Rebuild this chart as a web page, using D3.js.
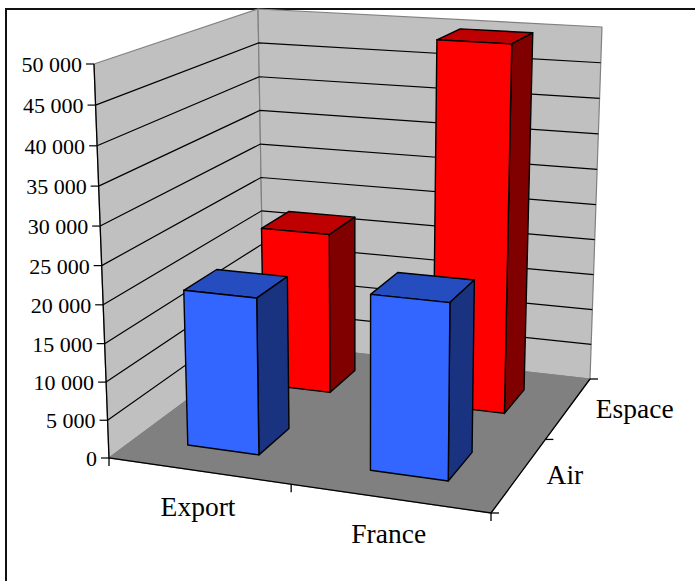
<!DOCTYPE html>
<html>
<head>
<meta charset="utf-8">
<script src="https://d3js.org/d3.v7.min.js"></script>
<style>
  html, body { margin: 0; padding: 0; background: #fff; overflow: hidden; }
  svg { display: block; }
  text { font-family: "Liberation Serif", serif; fill: #000; }
</style>
</head>
<body>
<svg id="chart" width="695" height="581"></svg>
<script>
// Chart values
const categories = ["Export", "France"];
const seriesNames = ["Air", "Espace"];
const airValues = [20500, 22500];
const espaceValues = [22300, 49900];
const valueMax = 50000;

const seriesColors = {
  Air: { front: "#3366ff", top: "#264dbf", side: "#1a3380" },
  Espace: { front: "#ff0000", top: "#bf0000", side: "#800000" }
};

// Corners of the chart box on screen: floor and ceiling, ordered
// front-left, front-right, back-right, back-left.
const floorCorners = [[109, 458], [491, 513], [590, 379], [264, 343]];
const ceilingCorners = [[94, 64], [496, 90], [602, 27], [258, 9]];

// Homography from the unit square onto a quadrilateral.
function squareToQuad([p0, p1, p2, p3]) {
  const dx1 = p1[0] - p2[0], dx2 = p3[0] - p2[0], sx = p0[0] - p1[0] + p2[0] - p3[0];
  const dy1 = p1[1] - p2[1], dy2 = p3[1] - p2[1], sy = p0[1] - p1[1] + p2[1] - p3[1];
  const den = dx1 * dy2 - dx2 * dy1;
  const g = (sx * dy2 - dx2 * sy) / den;
  const h = (dx1 * sy - sx * dy1) / den;
  const a = p1[0] - p0[0] + g * p1[0], b = p3[0] - p0[0] + h * p3[0];
  const d = p1[1] - p0[1] + g * p1[1], e = p3[1] - p0[1] + h * p3[1];
  return (u, v) => {
    const w = g * u + h * v + 1;
    return [(a * u + b * v + p0[0]) / w, (d * u + e * v + p0[1]) / w];
  };
}
const floorMap = squareToQuad(floorCorners);
const ceilingMap = squareToQuad(ceilingCorners);

// Project chart space (x across, y up, z into the page; all 0..1) to the screen.
// Heights are foreshortened slightly, more strongly towards the front.
function project(x, y, z) {
  const f = floorMap(x, z), c = ceilingMap(x, z);
  const a = 1.048 - 0.03 * z;
  const t = y / (a - (a - 1) * y);
  return [f[0] + (c[0] - f[0]) * t, f[1] + (c[1] - f[1]) * t];
}

const xBand = d3.scaleBand().domain(categories).range([0, 1]).paddingInner(0.6).paddingOuter(0.3);
const zBand = d3.scaleBand().domain(seriesNames).range([0, 1]).paddingInner(0.6).paddingOuter(0.3);
const yScale = d3.scaleLinear().domain([0, valueMax]).range([0, 1]);
const yTicks = yScale.ticks(10);
const tickFormat = d3.formatLocale({ decimal: ",", thousands: " ", grouping: [3], currency: ["", ""] }).format(",d");

const svg = d3.select("#chart");
const line = d3.line();
const closed = pts => line(pts) + "Z";

// Outer frame; it runs past the right and bottom of the page
svg.append("rect")
  .attr("x", 6).attr("y", 9).attr("width", 720).attr("height", 600)
  .attr("fill", "#fff").attr("stroke", "#111").attr("stroke-width", 2);

// Walls and floor
const walls = svg.append("g").attr("stroke", "#808080").attr("stroke-width", 1.2).attr("stroke-linejoin", "round");
walls.append("path").attr("fill", "#c0c0c0")
  .attr("d", closed([project(0, 0, 0), project(0, 1, 0), project(0, 1, 1), project(0, 0, 1)]));
walls.append("path").attr("fill", "#c0c0c0")
  .attr("d", closed([project(0, 0, 1), project(0, 1, 1), project(1, 1, 1), project(1, 0, 1)]));
walls.append("path").attr("fill", "#808080")
  .attr("d", closed([project(0, 0, 0), project(1, 0, 0), project(1, 0, 1), project(0, 0, 1)]));

// Gridlines across the side wall and the back wall
svg.append("g").attr("fill", "none").attr("stroke", "#000").attr("stroke-width", 1.2)
  .selectAll("path").data(yTicks.filter(t => t > 0 && t < valueMax)).join("path")
  .attr("d", t => {
    const y = yScale(t);
    return line([project(0, y, 0), project(0, y, 1), project(1, y, 1)]);
  });

// Axis lines
const axes = svg.append("g").attr("fill", "none").attr("stroke", "#000").attr("stroke-width", 1.3);
axes.append("path").attr("d", line([project(0, 1, 0), project(0, 0, 0), project(1, 0, 0), project(1, 0, 1)]));

// Value axis ticks and labels
const tickLen = 8;
const yAxis = svg.append("g");
yTicks.forEach(t => {
  const [px, py] = project(0, yScale(t), 0);
  yAxis.append("line").attr("x1", px - tickLen).attr("x2", px).attr("y1", py).attr("y2", py)
    .attr("stroke", "#000").attr("stroke-width", 1.2);
  yAxis.append("text").attr("x", px - tickLen - 4).attr("y", py + 8)
    .attr("text-anchor", "end").attr("font-size", 22).text(tickFormat(t));
});

// Category axis ticks and labels
const xStep = xBand.step();
d3.range(categories.length + 1).forEach(i => {
  const [px, py] = project(i * xStep, 0, 0);
  axes.append("line").attr("x1", px).attr("x2", px).attr("y1", py).attr("y2", py + tickLen);
});
categories.forEach(c => {
  const [px, py] = project(xBand(c) + xBand.bandwidth() / 2, 0, 0);
  svg.append("text").attr("x", px).attr("y", py + 45)
    .attr("text-anchor", "middle").attr("font-size", 27.5).text(c);
});

// Depth axis ticks and labels
const zStep = zBand.step();
d3.range(seriesNames.length + 1).forEach(i => {
  const [px, py] = project(1, 0, i * zStep);
  axes.append("line").attr("x1", px).attr("x2", px + tickLen).attr("y1", py).attr("y2", py);
});
seriesNames.forEach(s => {
  const [px, py] = project(1, 0, zBand(s) + zBand.bandwidth() / 2);
  svg.append("text").attr("x", px + 27).attr("y", py + 10)
    .attr("font-size", 27.5).text(s);
});

// Bars, back row first so that nearer bars overlap farther ones
const barRows = [
  { series: "Espace", values: espaceValues },
  { series: "Air", values: airValues }
];
barRows.forEach(row => {
  const colors = seriesColors[row.series];
  const z0 = zBand(row.series), z1 = z0 + zBand.bandwidth();
  const g = svg.append("g").attr("stroke", "#000").attr("stroke-width", 1.4).attr("stroke-linejoin", "round");
  categories.forEach((c, i) => {
    const x0 = xBand(c), x1 = x0 + xBand.bandwidth(), h = yScale(row.values[i]);
    g.append("path").attr("fill", colors.top)
      .attr("d", closed([project(x0, h, z0), project(x1, h, z0), project(x1, h, z1), project(x0, h, z1)]));
    g.append("path").attr("fill", colors.side)
      .attr("d", closed([project(x1, 0, z0), project(x1, h, z0), project(x1, h, z1), project(x1, 0, z1)]));
    g.append("path").attr("fill", colors.front)
      .attr("d", closed([project(x0, 0, z0), project(x1, 0, z0), project(x1, h, z0), project(x0, h, z0)]));
  });
});
</script>
</body>
</html>
